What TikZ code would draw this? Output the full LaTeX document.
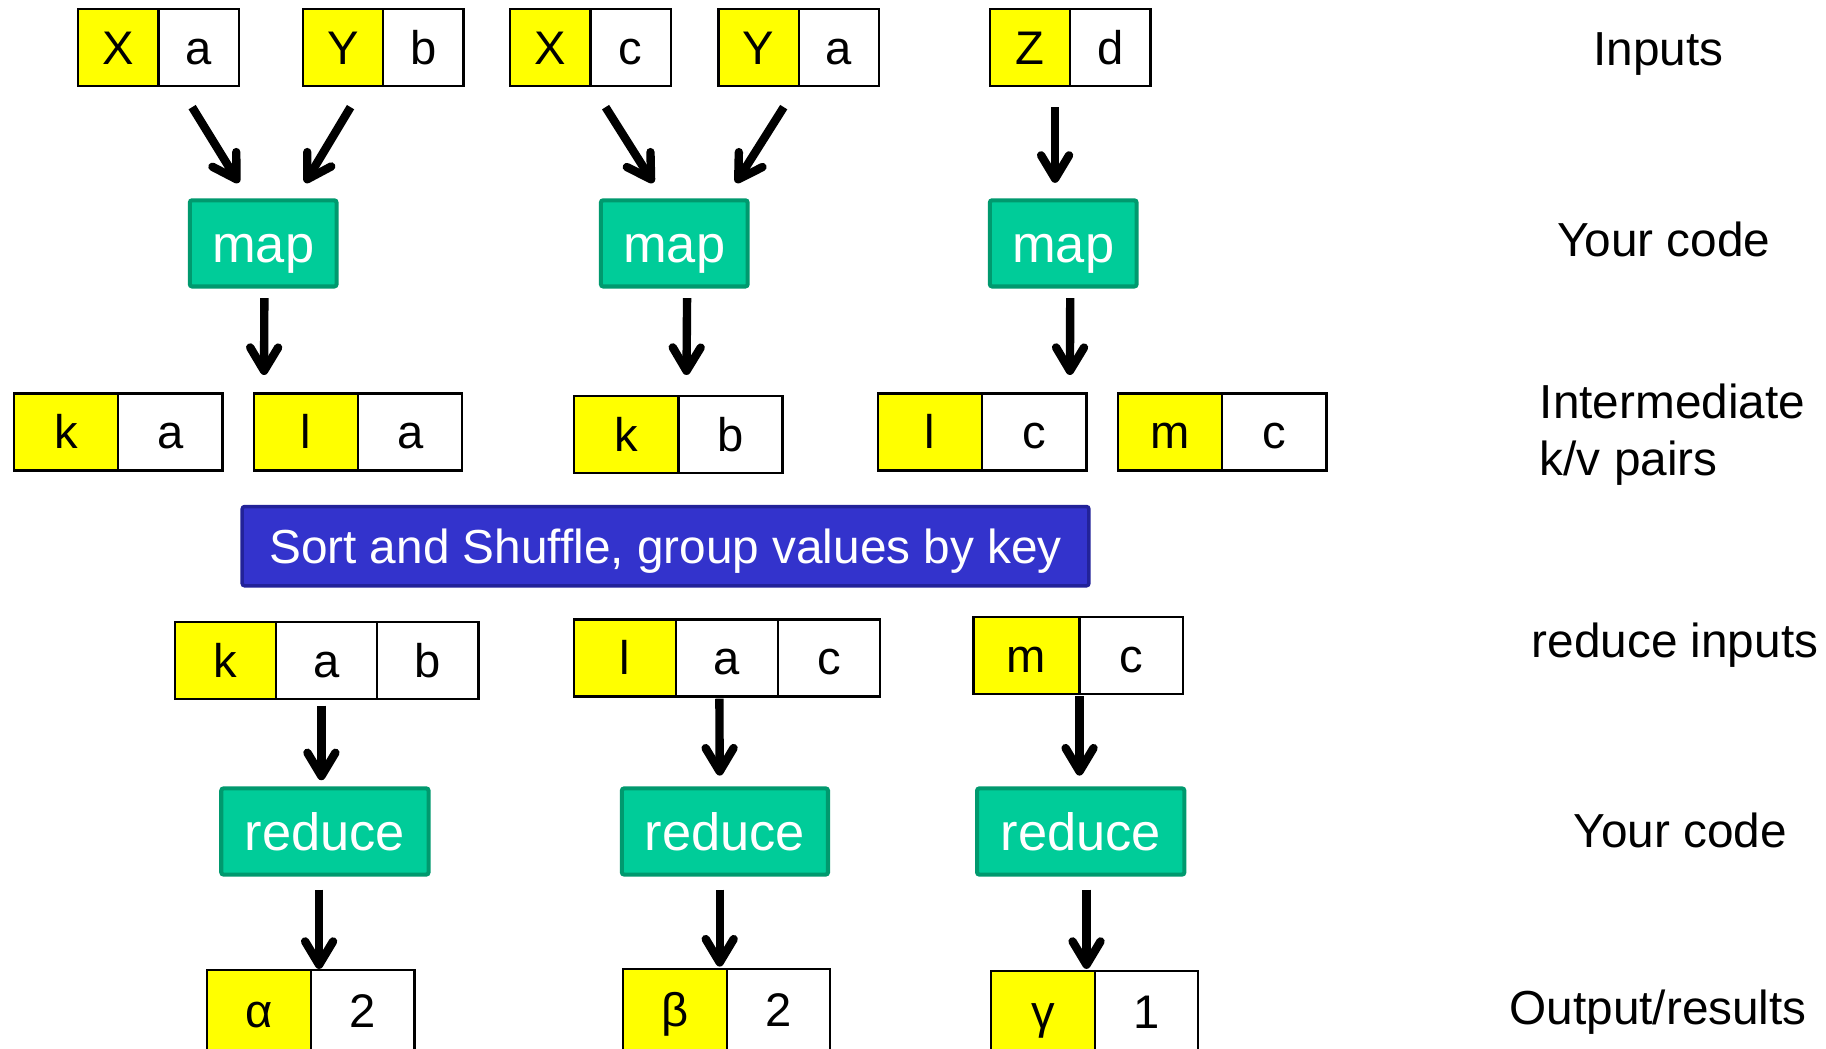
\documentclass[tikz,border=0pt]{standalone}
\usepackage{fontspec}
\setmainfont{Liberation Sans}
\usetikzlibrary{arrows.meta,calc}

\definecolor{keyyellow}{HTML}{FFFF00}
\definecolor{codegreen}{HTML}{00CC99}
\definecolor{codegreenline}{HTML}{00996E}
\definecolor{shuffleblue}{HTML}{3333CC}
\definecolor{shuffleline}{HTML}{222299}

\tikzset{
  cell/.style={draw=black, line width=2pt, outer sep=0pt, inner sep=0pt,
    minimum height=66pt, anchor=west,
    font=\fontsize{40.5}{48}\selectfont, text height=29pt, text depth=0pt},
  keycell/.style={cell, fill=keyyellow},
  valcell/.style={cell, fill=white},
  codebox/.style={draw=codegreenline, fill=codegreen, line width=3.5pt,
    rounded corners=2pt, minimum height=74pt, inner sep=0pt, outer sep=0pt,
    text=white, font=\fontsize{45}{54}\selectfont, text height=32pt, text depth=0pt},
  shufflebox/.style={draw=shuffleline, fill=shuffleblue, line width=3pt,
    rounded corners=2pt, minimum width=727pt, minimum height=68pt,
    inner sep=0pt, outer sep=0pt, text=white,
    font=\fontsize{41}{49}\selectfont, text height=29.4pt, text depth=0pt},
  arr/.style={line width=7.2pt, -{Straight Barb[length=20pt,width=24pt,round]}},
  rowlabel/.style={font=\fontsize{41}{49}\selectfont, inner sep=0pt, anchor=base west}
}

\begin{document}
\begin{tikzpicture}[x=1pt,y=-1pt]
\clip (0,0) rectangle (1568,900);
\fill[white] (0,0) rectangle (1568,900);

% ---- input key/value pairs
\node[keycell, minimum width=69pt] (in1k) at (67,41) {X};
\node[valcell, minimum width=69pt] (in1v) at (in1k.east) {a};
\node[keycell, minimum width=69pt] (in2k) at (260,41) {Y};
\node[valcell, minimum width=69pt] (in2v) at (in2k.east) {b};
\node[keycell, minimum width=69pt] (in3k) at (438,41) {X};
\node[valcell, minimum width=69pt] (in3v) at (in3k.east) {c};
\node[keycell, minimum width=69pt] (in4k) at (617,41) {Y};
\node[valcell, minimum width=69pt] (in4v) at (in4k.east) {a};
\node[keycell, minimum width=69pt] (in5k) at (850,41) {Z};
\node[valcell, minimum width=69pt] (in5v) at (in5k.east) {d};

% ---- map functions
\node[codebox, minimum width=126pt] (map1) at (226,209) {map};
\node[codebox, minimum width=126pt] (map2) at (579,209) {map};
\node[codebox, minimum width=126pt] (map3) at (913,209) {map};

% ---- intermediate pairs
\node[keycell, minimum width=89.5pt] (mid1k) at (12,371) {k};
\node[valcell, minimum width=89.5pt] (mid1v) at (mid1k.east) {a};
\node[keycell, minimum width=89.5pt] (mid2k) at (218,371) {l};
\node[valcell, minimum width=89.5pt] (mid2v) at (mid2k.east) {a};
\node[keycell, minimum width=89.5pt] (mid3k) at (493,373) {k};
\node[valcell, minimum width=89.5pt] (mid3v) at (mid3k.east) {b};
\node[keycell, minimum width=89.5pt] (mid4k) at (754,371) {l};
\node[valcell, minimum width=89.5pt] (mid4v) at (mid4k.east) {c};
\node[keycell, minimum width=89.5pt] (mid5k) at (960,371) {m};
\node[valcell, minimum width=89.5pt] (mid5v) at (mid5k.east) {c};

% ---- shuffle stage
\node[shufflebox] (shuffle) at (571.5,469) {Sort and Shuffle, group values by key};

% ---- reduce inputs
\node[keycell, minimum width=87pt] (rin1k) at (150,567) {k};
\node[valcell, minimum width=87pt] (rin1a) at (rin1k.east) {a};
\node[valcell, minimum width=87pt] (rin1b) at (rin1a.east) {b};
\node[keycell, minimum width=87.5pt] (rin2k) at (493,565) {l};
\node[valcell, minimum width=87.5pt] (rin2a) at (rin2k.east) {a};
\node[valcell, minimum width=87.5pt] (rin2b) at (rin2a.east) {c};
\node[keycell, minimum width=91pt] (rin3k) at (836,563) {m};
\node[valcell, minimum width=89pt] (rin3a) at (rin3k.east) {c};

% ---- reduce functions
\node[codebox, minimum width=178pt] (red1) at (279,714) {reduce};
\node[codebox, minimum width=177pt] (red2) at (622.5,714) {reduce};
\node[codebox, minimum width=178pt] (red3) at (928,714) {reduce};

% ---- outputs
\node[keycell, minimum width=89pt, minimum height=70pt] (out1k) at (178,868) {α};
\node[valcell, minimum width=89pt, minimum height=70pt] (out1v) at (out1k.east) {2};
\node[keycell, minimum width=89pt, minimum height=70pt] (out2k) at (535,867) {β};
\node[valcell, minimum width=89pt, minimum height=70pt] (out2v) at (out2k.east) {2};
\node[keycell, minimum width=89pt, minimum height=70pt] (out3k) at (851,869) {γ};
\node[valcell, minimum width=89pt, minimum height=70pt] (out3v) at (out3k.east) {1};

% ---- arrows
\draw[arr] ($(in1v.south)+(-5.5,18)$) -- ($(map1.north)+(-21,-15)$);
\draw[arr] ($(in2k.south)+(6.5,18)$) -- ($(map1.north)+(36,-15)$);
\draw[arr] ($(in3v.south)+(-21.5,18)$) -- ($(map2.north)+(-18,-15)$);
\draw[arr] ($(in4k.south)+(21.5,18)$) -- ($(map2.north)+(53,-15)$);
\draw[arr] ($(in5k.south)+(21.5,18)$) -- ($(map3.north)+(-7,-15)$);

\draw[arr] ($(map1.south)+(1,10)$) -- ($(mid2k.north)+(-36,-16)$);
\draw[arr] ($(map2.south)+(11,10)$) -- ($(mid3k.north east)+(7,-18)$);
\draw[arr] ($(map3.south)+(6,10)$) -- ($(mid4v.north)+(30.5,-16)$);

\draw[arr] ($(rin1a.south)+(-4.5,6)$) -- ($(red1.north)+(-3,-7)$);
\draw[arr] ($(rin2a.south)+(-6.5,2)$) -- ($(red2.north)+(-4.5,-11)$);
\draw[arr] ($(rin3k.south east)+(0,2)$) -- ($(red3.north)+(-1,-11)$);

\draw[arr] ($(red1.south)+(-5,13)$) -- ($(out1k.north east)+(7,-1)$);
\draw[arr] ($(red2.south)+(-4.5,13)$) -- ($(out2k.north east)+(-6,-2)$);
\draw[arr] ($(red3.south)+(5,13)$) -- ($(out3k.north east)+(-7,-2)$);

% ---- row labels
\node[rowlabel] (lblin) at (1368,56) {Inputs};
\node[rowlabel] (lblmap) at (1337,220) {Your code};
\node[rowlabel] (lblmid) at (1322,359) {Intermediate};
\node[rowlabel] (lblkv) at (1322,408) {k/v pairs};
\node[rowlabel] (lblrin) at (1315,565) {reduce inputs};
\node[rowlabel] (lblred) at (1351,728) {Your code};
\node[rowlabel] (lblout) at (1296,880) {Output/results};
\end{tikzpicture}
\end{document}
